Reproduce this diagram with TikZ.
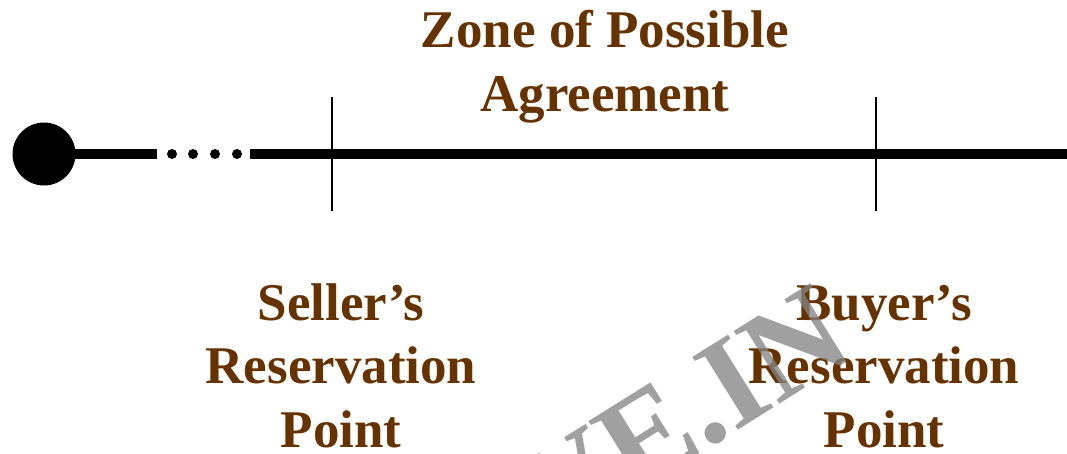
\documentclass[tikz,border=0pt]{standalone}
\usepackage{fontspec}
\setmainfont{Liberation Serif}
\definecolor{labelbrown}{RGB}{102,51,0}
\definecolor{wmgray}{RGB}{131,131,131}
\begin{document}
\begin{tikzpicture}[x=1pt,y=-1pt,
  lbl/.style={text=labelbrown,font=\fontsize{53}{63.5}\selectfont\bfseries,align=center,inner sep=0pt,anchor=base},
  mainline/.style={line width=10pt,line cap=butt},
  tick/.style={line width=1.8pt},
  dotmark/.style={circle,fill=black,inner sep=0pt,minimum size=10pt},
  watermark/.style={text=wmgray,text opacity=0.77,font=\fontsize{131}{131}\selectfont\bfseries,inner sep=0pt,rotate=32,anchor=base east}]
\useasboundingbox (0,0) rectangle (1067,453);
\clip (0,0) rectangle (1067,453);
% main line
\node[circle,fill=black,inner sep=0pt,minimum size=63pt] (start) at (44,154) {};
\coordinate (segAend) at (157,154);
\coordinate (segBstart) at (250,154);
\coordinate (segBend) at (1067,154);
\draw[mainline] (start.center) -- (segAend);
\draw[mainline] (segBstart) -- (segBend);
\node[dotmark] (d1) at (172,154) {};
\node[dotmark] (d2) at (193,154) {};
\node[dotmark] (d3) at (215,154) {};
\node[dotmark] (d4) at (237,154) {};
% ticks
\coordinate (sTop) at (332,97);
\coordinate (sBot) at (332,211);
\coordinate (bTop) at (876,97);
\coordinate (bBot) at (876,211);
\draw[tick] (sTop) -- (sBot);
\draw[tick] (bTop) -- (bBot);
% labels
\node[lbl] (zopa) at (605,111) {Zone of Possible\\Agreement};
\node[lbl] (seller) at (341,447) {Seller’s\\Reservation\\Point};
\node[lbl] (buyer) at (884,447) {Buyer’s\\Reservation\\Point};
% watermark
\node[watermark] (wm) at (858,355) {VE.IN};
\end{tikzpicture}
\end{document}
